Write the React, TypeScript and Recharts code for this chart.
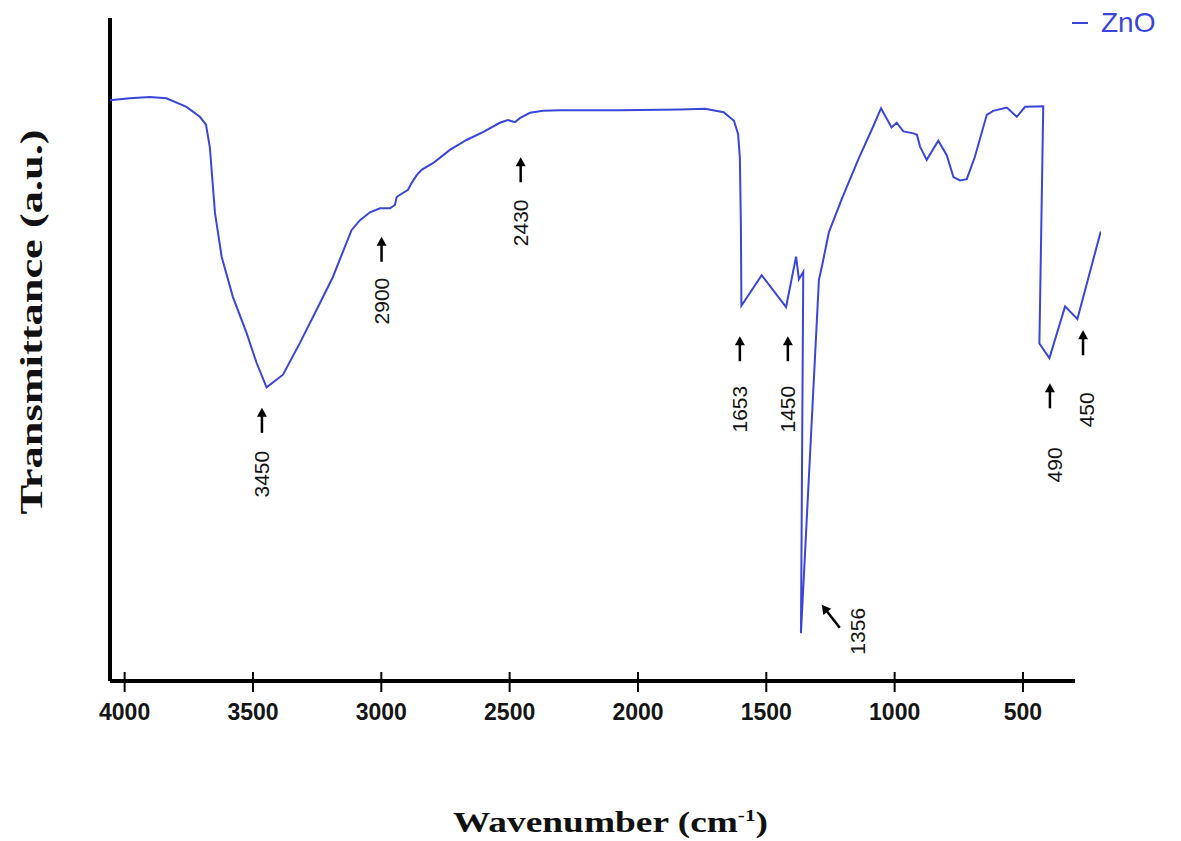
import React from 'react';
import { LineChart, Line, XAxis, YAxis, ReferenceLine, ReferenceDot, Legend, Customized } from 'recharts';

// ---- data ----
const wavenumbers = [
  4057, 3980, 3902, 3837, 3759, 3707, 3683, 3668, 3648, 3622,
  3578, 3525, 3486, 3447, 3383, 3317, 3252, 3189, 3116, 3083,
  3044, 3005, 2966, 2947, 2940, 2916, 2896, 2882, 2862, 2843,
  2799, 2772, 2733, 2668, 2604, 2538, 2507, 2479, 2460, 2421,
  2370, 2304, 2070, 1836, 1739, 1666, 1626, 1610, 1603, 1599,
  1597, 1518, 1423, 1384, 1373, 1356, 1365, 1295, 1283, 1256,
  1205, 1139, 1084, 1053, 1012, 992, 966, 927, 913, 901,
  875, 830, 797, 771, 745, 719, 687, 641, 616, 563,
  524, 492, 421, 436, 397, 336, 288, 197,
];
const transmittance = [
  87.6, 87.9, 88.1, 87.9, 86.6, 85.1, 83.9, 80.5, 70.6, 64.0,
  57.9, 52.5, 48.0, 44.3, 46.2, 51.0, 56.0, 60.9, 68.0, 69.5,
  70.7, 71.3, 71.3, 71.8, 73.0, 73.6, 74.1, 75.1, 76.3, 77.1,
  78.1, 78.9, 80.1, 81.6, 82.8, 84.2, 84.6, 84.3, 84.9, 85.7,
  86.0, 86.1, 86.1, 86.2, 86.3, 85.8, 84.5, 82.5, 78.9, 68.8,
  56.6, 61.2, 56.4, 64.0, 60.6, 61.7, 7.2, 60.5, 62.6, 67.7,
  72.8, 78.9, 83.6, 86.4, 83.5, 84.2, 82.9, 82.6, 82.4, 80.6,
  78.6, 81.5, 79.3, 76.0, 75.5, 75.7, 79.1, 85.4, 86.0, 86.5,
  85.1, 86.6, 86.7, 50.9, 48.7, 56.5, 54.6, 67.8,
];
const xTicks = [4000, 3500, 3000, 2500, 2000, 1500, 1000, 500];
const xDomain = [196, 4057];
const xAxisEnd = 297;
const yDomain = [0, 100];
const seriesName = 'ZnO';

// peak annotations (labels, arrow tip position, label position in data units)
const peakLabels = ['3450', '2900', '2430', '1653', '1450', '1356', '490', '450'];
const peakArrowX = [3465, 2999, 2457, 1603, 1416, 1284, 395, 266];
const peakArrowY = [41.2, 67.0, 79.0, 52.0, 52.0, 11.5, 44.9, 52.9];
const peakTextX = [3465, 2999, 2457, 1603, 1416, 1143, 376, 254];
const peakTextY = [31.2, 57.3, 69.1, 41.0, 41.0, 7.5, 32.6, 40.9];
const peakArrowDiagonal = [false, false, false, false, false, true, false, false];

const chartData = wavenumbers.map((w, i) => ({ w, t: transmittance[i] }));

const LINE_COLOR = '#3a46d8';
const SANS = '"Liberation Sans", Arial, Helvetica, sans-serif';
const SERIF = '"Liberation Serif", "Times New Roman", serif';

const XTick = (props: any) => {
  const { x, y, payload } = props;
  return (
    <g>
      <line x1={x} x2={x} y1={y - 9} y2={y + 11} stroke="#000" strokeWidth={2} />
      <text x={x} y={y + 39} textAnchor="middle" fontFamily={SANS} fontWeight="bold" fontSize={23} fill="#151515">
        {payload.value}
      </text>
    </g>
  );
};

const makeArrow = (diag: boolean) => (props: any) => {
  const { cx, cy } = props;
  if (cx == null || cy == null) return <g />;
  if (diag) {
    return (
      <g>
        <line x1={cx + 4} y1={cy + 5} x2={cx + 18} y2={cy + 23} stroke="#000" strokeWidth={2.5} />
        <polygon points={`${cx},${cy} ${cx + 9.5},${cy + 4} ${cx + 1.6},${cy + 10.2}`} fill="#000" />
      </g>
    );
  }
  return (
    <g>
      <line x1={cx} y1={cy + 6} x2={cx} y2={cy + 25} stroke="#000" strokeWidth={2.5} />
      <polygon points={`${cx},${cy} ${cx - 5},${cy + 9} ${cx + 5},${cy + 9}`} fill="#000" />
    </g>
  );
};

const makeLabel = (text: string) => (props: any) => {
  const { cx, cy } = props;
  if (cx == null || cy == null) return <g />;
  return (
    <text
      transform={`translate(${cx},${cy}) rotate(-90)`}
      textAnchor="middle"
      dominantBaseline="central"
      fontFamily={SANS}
      fontSize={21}
      fill="#151515"
    >
      {text}
    </text>
  );
};

const renderLegend = (props: any) => {
  const payload = props.payload || [];
  return (
    <div style={{ whiteSpace: 'nowrap', width: 110 }}>
      {payload.map((p: any, i: number) => (
        <div key={i} style={{ display: 'flex', alignItems: 'center', color: p.color, fontFamily: SANS, fontSize: 28 }}>
          <span style={{ display: 'inline-block', flexShrink: 0, width: 16, height: 2, background: p.color, marginRight: 13 }} />
          <span>{p.value}</span>
        </div>
      ))}
    </div>
  );
};

const AxisTitles = () => (
  <g>
    <text
      x={453}
      y={832}
      textLength={315}
      lengthAdjust="spacingAndGlyphs"
      fontFamily={SERIF}
      fontWeight="bold"
      fontSize={30}
      fill="#111"
    >
      Wavenumber (cm<tspan dy={-11} fontSize={17}>-1</tspan><tspan dy={11}>)</tspan>
    </text>
    <text
      transform="translate(42,322) rotate(-90)"
      textAnchor="middle"
      textLength={385}
      lengthAdjust="spacingAndGlyphs"
      fontFamily={SERIF}
      fontWeight="bold"
      fontSize={32}
      fill="#111"
    >
      Transmittance (a.u.)
    </text>
  </g>
);

export default function App() {
  return (
    <div style={{ position: 'absolute', left: 0, top: 0, width: 1181, height: 841, background: '#fff' }}>
      <LineChart
        width={1181}
        height={841}
        data={chartData}
        margin={{ top: 18, right: 80, bottom: 130, left: 110 }}
        style={{ fontFamily: SANS }}
      >
        <XAxis
          dataKey="w"
          type="number"
          domain={xDomain}
          reversed
          ticks={xTicks}
          interval={0}
          height={30}
          axisLine={false}
          tickLine={false}
          tickSize={0}
          tickMargin={0}
          tick={<XTick />}
          allowDataOverflow
        />
        <YAxis
          type="number"
          domain={yDomain}
          width={0}
          tick={false}
          tickLine={false}
          axisLine={false}
          allowDataOverflow
        />
        <ReferenceLine
          segment={[{ x: xDomain[1], y: yDomain[0] }, { x: xAxisEnd, y: yDomain[0] }]}
          stroke="#000"
          strokeWidth={4}
          ifOverflow="visible"
        />
        <ReferenceLine
          segment={[{ x: xDomain[1], y: yDomain[0] }, { x: xDomain[1], y: yDomain[1] }]}
          stroke="#000"
          strokeWidth={4}
          ifOverflow="visible"
        />
        <Legend
          layout="vertical"
          align="right"
          verticalAlign="top"
          content={renderLegend}
          wrapperStyle={{ position: 'absolute', left: 1072, top: 7, width: 0, height: 0, overflow: 'visible' }}
        />
        <Line
          type="linear"
          dataKey="t"
          name={seriesName}
          stroke={LINE_COLOR}
          strokeWidth={2}
          dot={false}
          activeDot={false}
          isAnimationActive={false}
        />
        {peakLabels.map((lbl, i) => (
          <ReferenceDot
            key={'a' + i}
            x={peakArrowX[i]}
            y={peakArrowY[i]}
            r={0}
            ifOverflow="visible"
            shape={makeArrow(peakArrowDiagonal[i])}
          />
        ))}
        {peakLabels.map((lbl, i) => (
          <ReferenceDot
            key={'t' + i}
            x={peakTextX[i]}
            y={peakTextY[i]}
            r={0}
            ifOverflow="visible"
            shape={makeLabel(lbl)}
          />
        ))}
        <Customized component={AxisTitles} />
      </LineChart>
    </div>
  );
}
